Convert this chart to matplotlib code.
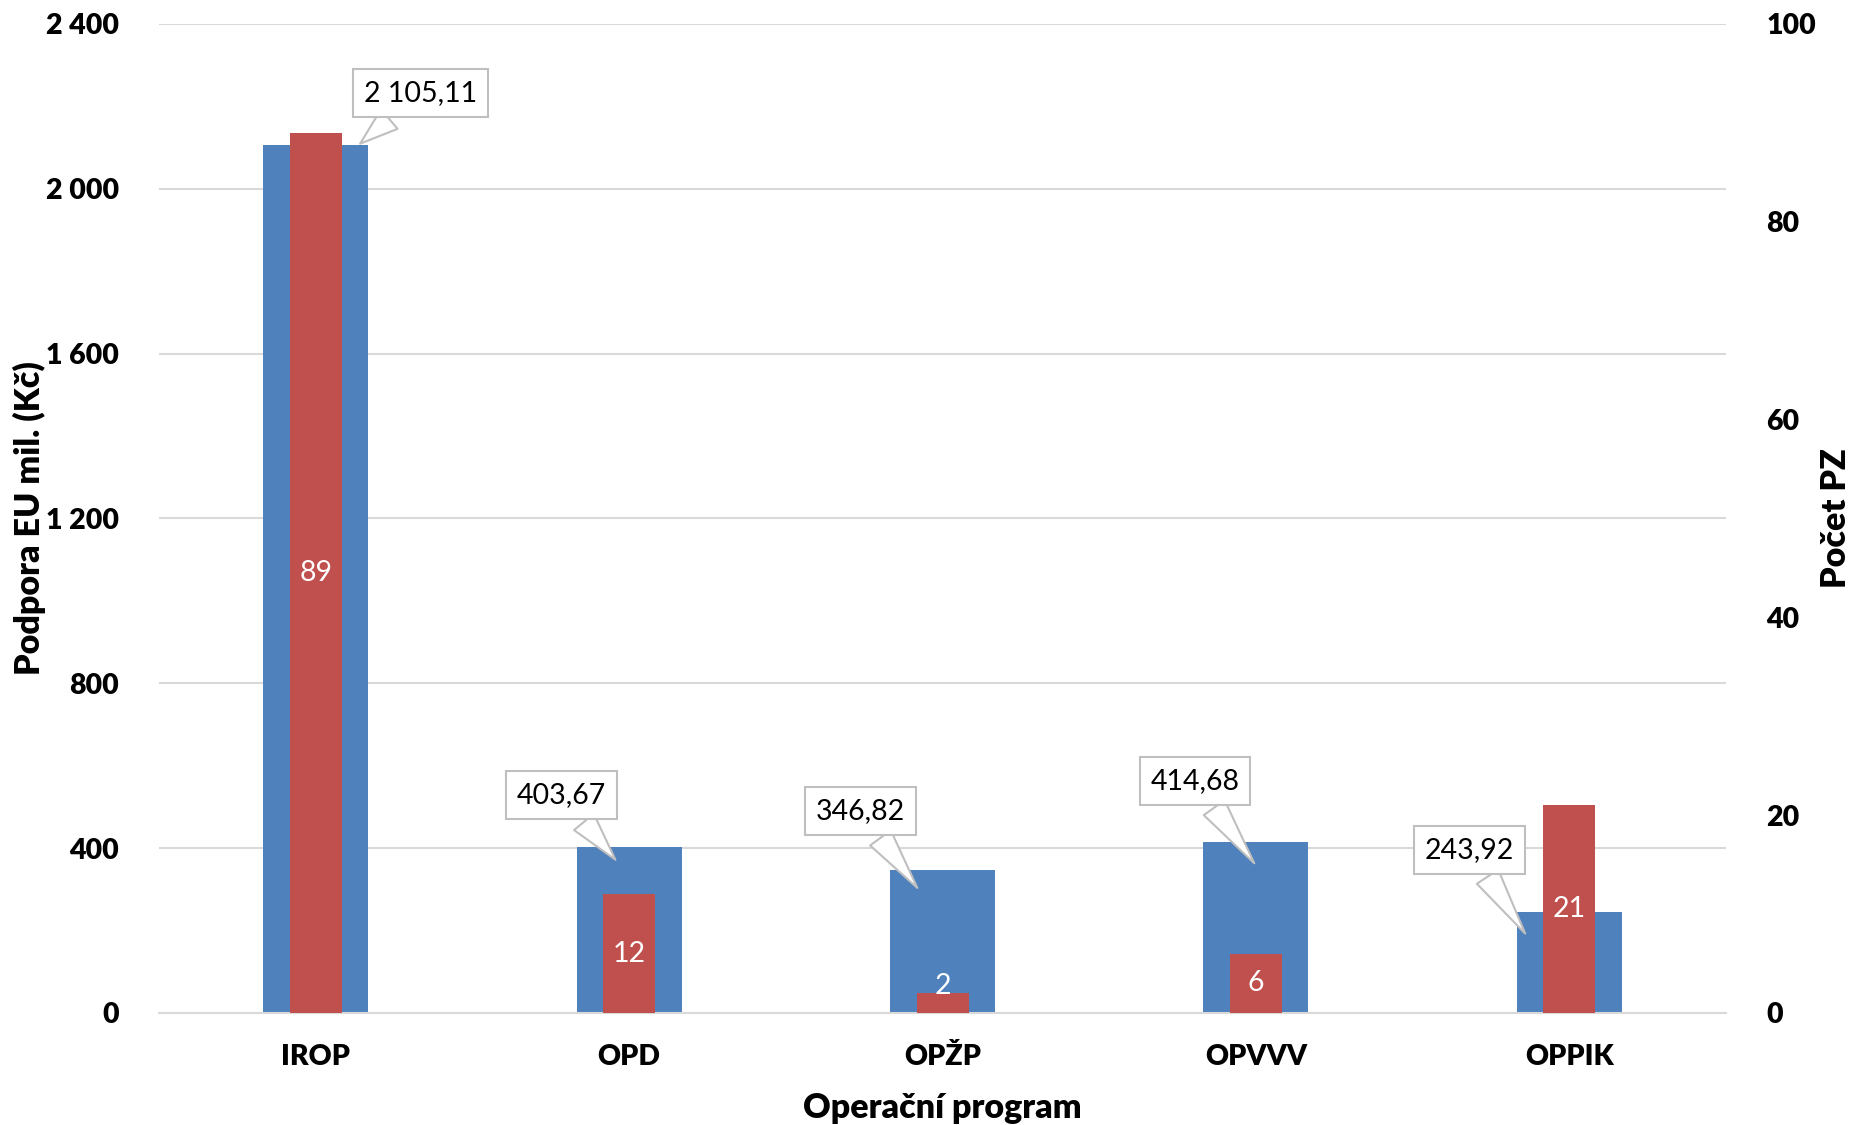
import matplotlib
matplotlib.use("Agg")
import matplotlib.pyplot as plt
from matplotlib.ticker import FuncFormatter

plt.rcParams['font.family'] = ['Lato', 'DejaVu Sans']
W = 'heavy'
plt.rcParams['font.weight'] = W

categories = ["IROP", "OPD", "OPŽP", "OPVVV", "OPPIK"]
podpora = [2105.11, 403.67, 346.82, 414.68, 243.92]
pocet = [89, 12, 2, 6, 21]
left_ticks = [0, 400, 800, 1200, 1600, 2000, 2400]
right_ticks = [0, 20, 40, 60, 80, 100]

# callout styling: pointer tip shift (data units) and box offset (points)
tip_dx = [0.135, -0.038, -0.075, 0.0, -0.136]
tip_dy = [0, -37, -49, -57, -57]
box_off = [(45, 38), (-40, 48), (-42, 57), (-44, 61), (-41, 62)]

BLUE = "#4F81BD"
RED = "#C0504D"
GRID = "#D9D9D9"

fig = plt.figure(figsize=(18.51, 11.25), dpi=100)
ax = fig.add_axes([0.0859, 0.0996, 0.8466, 0.8791])
ax2 = ax.twinx()

x = list(range(len(categories)))
ax.bar(x, podpora, width=0.335, color=BLUE, zorder=2)
ax2.bar(x, pocet, width=0.166, color=RED, zorder=2)

ax.set_xlim(-0.5, len(categories) - 0.5)
ax.set_ylim(0, 2400)
ax2.set_ylim(0, 100)
ax.set_yticks(left_ticks)
ax2.set_yticks(right_ticks)

fmt = FuncFormatter(lambda v, p: f"{int(v):,}".replace(",", " "))
ax.yaxis.set_major_formatter(fmt)

ax.grid(axis='y', color=GRID, linewidth=1.5, zorder=0)
ax.set_axisbelow(True)
for a in (ax, ax2):
    for s in a.spines.values():
        s.set_visible(False)
    a.tick_params(length=0)
ax.spines['bottom'].set_visible(True)
ax.spines['bottom'].set_color(GRID)
ax.spines['bottom'].set_linewidth(1.5)

ax.tick_params(axis='y', pad=29, labelsize=20.5)
ax2.tick_params(axis='y', pad=29, labelsize=20.5)
ax.tick_params(axis='x', pad=22, labelsize=20.5)
ax.set_xticks(x)
ax.set_xticklabels(categories, fontweight=W, fontsize=20.5)

ax.set_xlabel("Operační program", fontsize=24.5, fontweight=W, labelpad=16)
ax.set_ylabel("Podpora EU mil. (Kč)", fontsize=24.5, fontweight=W)
ax2.set_ylabel("Počet PZ", fontsize=24.5, fontweight=W)
ax.yaxis.set_label_coords(-0.072, 0.5)
ax2.yaxis.set_label_coords(1.060, 0.5)

def fmt_cz(v):
    s = f"{v:,.2f}"
    return s.replace(",", " ").replace(".", ",")

for i, v in enumerate(podpora):
    ax2.annotate(fmt_cz(v), xy=(i + tip_dx[i], v + tip_dy[i]), xycoords=ax.transData,
                 xytext=box_off[i], textcoords='offset points',
                 ha='center', va='center', fontsize=20.5, fontweight='normal',
                 color='black', zorder=5,
                 bbox=dict(boxstyle='square,pad=0.38', fc='white', ec='#BFBFBF', lw=1.5),
                 arrowprops=dict(arrowstyle='wedge,tail_width=0.9,shrink_factor=0.5',
                                 fc='white', ec='#BFBFBF', lw=1.5))

for i, v in enumerate(pocet):
    ax2.text(i, max(v / 2, 2.7), str(v), ha='center', va='center',
             color='white', fontsize=20.5, fontweight='normal', zorder=4)

fig.savefig("out.png", dpi=100)
